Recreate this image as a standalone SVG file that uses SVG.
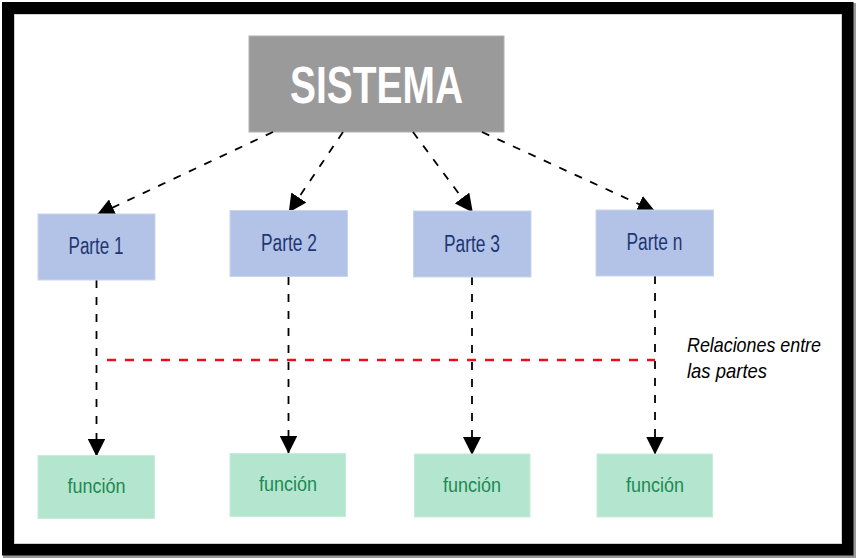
<svg xmlns="http://www.w3.org/2000/svg" width="856" height="558" viewBox="0 0 856 558">
<style>
.parte rect{fill:#b3c3e7;stroke:#c9d4ef;stroke-width:1}
.parte text{fill:#1d3773;font-family:"Liberation Sans",Arial,sans-serif;font-size:23px;text-anchor:middle}
.func rect{fill:#b4e5cf;stroke:#c6ecdb;stroke-width:1}
.func text{fill:#1b8a52;font-family:"Liberation Sans",Arial,sans-serif;font-size:21px;text-anchor:middle}
.conn line{stroke:#000;stroke-width:1.8;stroke-dasharray:8 9;fill:none}
.conn line.arr{marker-end:url(#ah)}
.conn line.rel{stroke:#e8101a;stroke-width:2.3;stroke-dasharray:9 9}
.note{font-family:"Liberation Sans",Arial,sans-serif;font-size:21px;font-style:italic;fill:#000}
</style>
<defs>
<marker id="ah" viewBox="0 0 18 18" refX="17.5" refY="9" markerWidth="18" markerHeight="18" markerUnits="userSpaceOnUse" orient="auto">
<path d="M0,0 L18,9 L0,18 z" fill="#000"/>
</marker>
</defs>
<g id="frame">
<rect x="3" y="3" width="853" height="555" fill="#9a9a9a"/>
<rect x="8" y="8" width="839.5" height="541.5" fill="#fff" stroke="#000" stroke-width="12"/>
<rect x="14.5" y="14.5" width="827" height="529" fill="none" stroke="#d0d0d0" stroke-width="1"/>
</g>
<g id="sistema">
<rect x="249" y="36" width="255" height="96" fill="#9b9a9b" stroke="#b0b0b0" stroke-width="1"/>
<text x="376.5" y="103" fill="#fff" font-family="'Liberation Sans',Arial,sans-serif" font-weight="bold" font-size="51" text-anchor="middle" textLength="173" lengthAdjust="spacingAndGlyphs">SISTEMA</text>
</g>
<g class="conn" id="connectors">
<line class="arr" x1="273" y1="132" x2="97" y2="215"/>
<line class="arr" x1="343" y1="132" x2="289" y2="212"/>
<line class="arr" x1="413" y1="132" x2="472.5" y2="212"/>
<line class="arr" x1="482" y1="132" x2="655" y2="211.5"/>
<line class="arr" x1="96.5" y1="280" x2="96.5" y2="456"/>
<line class="arr" x1="288.5" y1="277" x2="288.5" y2="453"/>
<line class="arr" x1="472" y1="277" x2="472" y2="454.5"/>
<line class="arr" x1="655" y1="276" x2="655" y2="454"/>
<line class="rel" x1="107" y1="360" x2="655" y2="360"/>
</g>
<g id="parte1" class="parte"><rect x="38" y="214" width="117" height="66"/><text x="96" y="254" textLength="55" lengthAdjust="spacingAndGlyphs">Parte 1</text></g>
<g id="parte2" class="parte"><rect x="230" y="210.5" width="117.5" height="66"/><text x="289" y="251" textLength="56" lengthAdjust="spacingAndGlyphs">Parte 2</text></g>
<g id="parte3" class="parte"><rect x="413.5" y="211" width="117.5" height="66"/><text x="472" y="251.5" textLength="56" lengthAdjust="spacingAndGlyphs">Parte 3</text></g>
<g id="parten" class="parte"><rect x="596" y="210" width="117.5" height="66"/><text x="654.5" y="250" textLength="56" lengthAdjust="spacingAndGlyphs">Parte n</text></g>
<g id="funcion1" class="func"><rect x="38" y="455.5" width="116.5" height="63"/><text x="96.5" y="493" textLength="58" lengthAdjust="spacingAndGlyphs">función</text></g>
<g id="funcion2" class="func"><rect x="230" y="453.5" width="115.5" height="63"/><text x="288" y="491" textLength="58" lengthAdjust="spacingAndGlyphs">función</text></g>
<g id="funcion3" class="func"><rect x="414.5" y="454" width="115.5" height="63"/><text x="472" y="491.5" textLength="58" lengthAdjust="spacingAndGlyphs">función</text></g>
<g id="funcion4" class="func"><rect x="597" y="454" width="115.5" height="63"/><text x="655" y="492" textLength="58" lengthAdjust="spacingAndGlyphs">función</text></g>
<g id="nota">
<text class="note" x="687" y="352" textLength="134" lengthAdjust="spacingAndGlyphs">Relaciones entre</text>
<text class="note" x="687" y="378" textLength="80" lengthAdjust="spacingAndGlyphs">las partes</text>
</g>
</svg>
